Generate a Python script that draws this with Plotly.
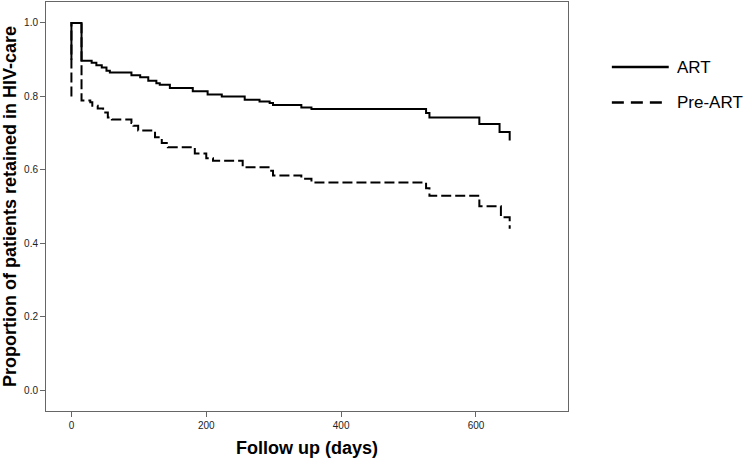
import plotly.graph_objects as go

# Kaplan-Meier step data (days, proportion retained)
art_days = [0, 0, 15, 30, 37, 45, 52, 57, 89, 102, 114, 126, 131, 146, 180, 202, 223,
            257, 279, 294, 299, 341, 356, 526, 531, 605, 635, 650]
art_surv = [0.90, 1.0, 0.897, 0.892, 0.885, 0.879, 0.870, 0.865, 0.858, 0.852, 0.843,
            0.836, 0.832, 0.823, 0.814, 0.805, 0.800, 0.791, 0.786, 0.782, 0.777,
            0.770, 0.766, 0.755, 0.743, 0.725, 0.703, 0.680]

pre_days = [0, 0, 15, 28, 31, 39, 47, 54, 60, 89, 92, 99, 124, 134, 143, 183, 200, 210,
            254, 294, 299, 341, 356, 526, 531, 605, 637, 650]
pre_surv = [0.80, 1.0, 0.789, 0.784, 0.775, 0.767, 0.756, 0.743, 0.737, 0.728, 0.720,
            0.707, 0.689, 0.673, 0.662, 0.645, 0.632, 0.625, 0.607, 0.598, 0.585,
            0.576, 0.566, 0.550, 0.530, 0.501, 0.471, 0.440]

series_names = ["ART", "Pre-ART"]
x_ticks = [0, 200, 400, 600]
y_ticks = [0.0, 0.2, 0.4, 0.6, 0.8, 1.0]

NARROW = "Liberation Sans Narrow, Arial Narrow, Liberation Sans, Arial, sans-serif"

fig = go.Figure()
fig.add_trace(go.Scatter(x=art_days, y=art_surv, mode="lines", line_shape="hv",
                         name=series_names[0],
                         line=dict(color="black", width=2), showlegend=False))
fig.add_trace(go.Scatter(x=pre_days, y=pre_surv, mode="lines", line_shape="hv",
                         name=series_names[1],
                         line=dict(color="black", width=2, dash="10px,4px"),
                         showlegend=False))

# legend drawn to match the reference (long sample lines)
leg_y = [0.841, 0.754]
leg_dash = ["solid", "12px,7px"]
for name, yy, dd in zip(series_names, leg_y, leg_dash):
    fig.add_shape(type="line", xref="paper", yref="paper", x0=1.084, x1=1.193,
                  y0=yy, y1=yy, line=dict(color="black", width=2.5, dash=dd))
    fig.add_annotation(xref="paper", yref="paper", x=1.205, y=yy, text=name,
                       showarrow=False, xanchor="left", yanchor="middle",
                       font=dict(family="Liberation Sans, Arial", size=17, color="black"))

axis_common = dict(showline=True, linecolor="#666", linewidth=1, mirror=True,
                   ticks="outside", ticklen=5, tickcolor="#666", tickwidth=1,
                   showgrid=False, zeroline=False, automargin=False,
                   tickfont=dict(family=NARROW, size=10, color="#222"))

fig.update_xaxes(range=[-37.7, 736.5], tickvals=x_ticks,
                 ticktext=[str(v) for v in x_ticks],
                 title=dict(text="<b>Follow up (days)</b>",
                            font=dict(family=NARROW, size=18, color="black")),
                 **axis_common)
fig.update_yaxes(range=[-0.056, 1.057], tickvals=y_ticks,
                 ticktext=[f"{v:.1f}" for v in y_ticks],
                 title=dict(text="<b>Proportion of patients retained in HIV-care</b>",
                            standoff=10,
                            font=dict(family=NARROW, size=18, color="black")),
                 **axis_common)

fig.update_layout(width=746, height=458, plot_bgcolor="white", paper_bgcolor="white",
                  margin=dict(l=46, r=178, t=2, b=47))

fig.write_html("out.html", config={"displayModeBar": False},
               post_script="document.body.style.margin='0';")
